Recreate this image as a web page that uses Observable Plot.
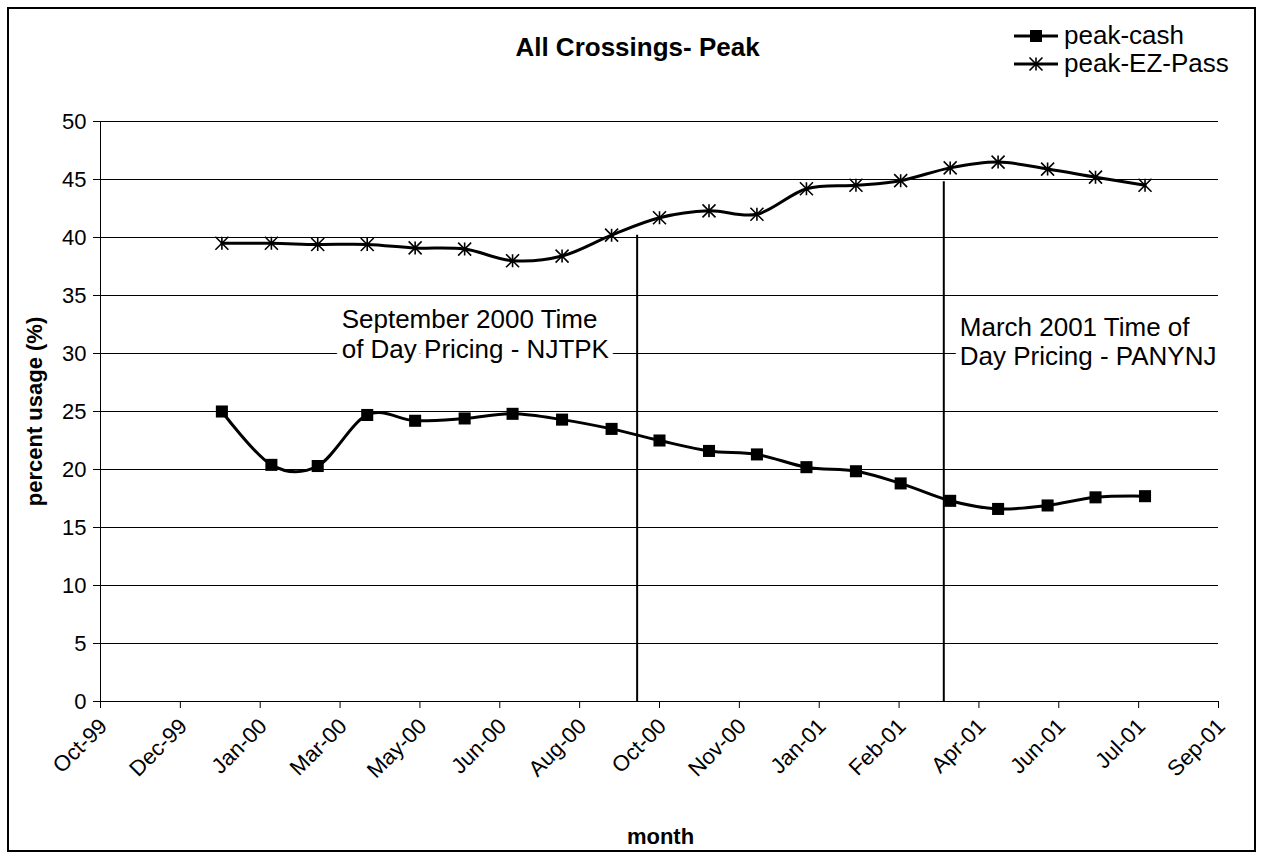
<!DOCTYPE html>
<html><head><meta charset="utf-8">
<script src="https://cdn.jsdelivr.net/npm/d3@7"></script>
<script src="https://cdn.jsdelivr.net/npm/@observablehq/plot@0.6"></script>
<style>
body{margin:0;background:#fff;font-family:Arial,"Liberation Sans",sans-serif;}
#wrap{position:relative;width:1263px;height:859px;overflow:hidden;}
#chart svg{display:block;}
#border{position:absolute;left:7px;top:7px;width:1245px;height:841px;border:2px solid #000;pointer-events:none;}
#legend{position:absolute;left:0;top:0;}
</style></head><body>
<div id="wrap"><div id="chart"></div><div id="border"></div></div>
<script>
// ---- data ----
const months = ["2000-01-01","2000-02-01","2000-03-01","2000-04-01","2000-05-01","2000-06-01","2000-07-01","2000-08-01","2000-09-01","2000-10-01","2000-11-01","2000-12-01","2001-01-01","2001-02-01","2001-03-01","2001-04-01","2001-05-01","2001-06-01","2001-07-01","2001-08-01"];
const peakCash = [25.0,20.4,20.3,24.7,24.2,24.4,24.8,24.3,23.5,22.5,21.6,21.3,20.2,19.85,18.8,17.3,16.6,16.9,17.6,17.7];
const peakEZPass = [39.5,39.5,39.4,39.4,39.1,39.0,38.0,38.4,40.2,41.7,42.3,42.0,44.2,44.5,44.9,46.0,46.5,45.9,45.2,44.5];
const seriesNames = ["peak-cash","peak-EZ-Pass"];
const xDomain = ["1999-10-17","2001-09-16"];
const xTickDates = ["1999-10-17","1999-12-06","2000-01-25","2000-03-15","2000-05-04","2000-06-23","2000-08-12","2000-10-01","2000-11-20","2001-01-09","2001-02-28","2001-04-19","2001-06-08","2001-07-28","2001-09-16"];
const xTickLabels = ["Oct-99","Dec-99","Jan-00","Mar-00","May-00","Jun-00","Aug-00","Oct-00","Nov-00","Jan-01","Feb-01","Apr-01","Jun-01","Jul-01","Sep-01"];
const yTicks = [0,5,10,15,20,25,30,35,40,45,50];
const eventDates = ["2000-09-17","2001-03-28"];
const eventTops = [40.2,44.8];
const noteDates = ["2000-03-16","2001-04-07"];
const noteValues = [31.7,31.06];
const noteTexts = ["September 2000 Time\nof Day Pricing - NJTPK","March 2001 Time of\nDay Pricing - PANYNJ"];
const titleText = "All Crossings- Peak";
const xTitle = "month";
const yTitle = "percent usage (%)";

// ---- build ----
const D = s => new Date(s + "T00:00:00Z");
const rows = months.map((m,i) => ({date: D(m), cash: peakCash[i], ez: peakEZPass[i]}));
const ticks = xTickDates.map((d,i) => ({date: D(d), label: xTickLabels[i]}));
const events = eventDates.map((d,i) => ({date: D(d), top: eventTops[i]}));
const notes = noteDates.map((d,i) => ({date: D(d), value: noteValues[i], text: noteTexts[i]}));
const FONT = "Arial, 'Liberation Sans', sans-serif";

const asterisk = {
  draw(ctx, size) {
    const r = Math.sqrt(size / Math.PI);
    ctx.moveTo(0, -r); ctx.lineTo(0, r);
    ctx.moveTo(-r, -r); ctx.lineTo(r, r);
    ctx.moveTo(-r, r); ctx.lineTo(r, -r);
  }
};

const chart = Plot.plot({
  width: 1263, height: 859,
  marginLeft: 100, marginRight: 45, marginTop: 121, marginBottom: 158,
  style: {fontFamily: FONT, fontSize: "22px", color: "#000", background: "transparent", overflow: "visible"},
  x: {type: "utc", domain: [D(xDomain[0]), D(xDomain[1])]},
  y: {domain: [0, 50]},
  marks: [
    Plot.ruleY(yTicks.filter(v => v > 0), {stroke: "#000", strokeWidth: 1}),
    Plot.frame({anchor: "left", stroke: "#000"}),
    Plot.frame({anchor: "bottom", stroke: "#000"}),
    Plot.axisY({ticks: yTicks, tickSize: 7, tickPadding: 7, label: null, fontSize: 22}),
    Plot.axisX({ticks: ticks.map(t => t.date), tickSize: 7, tickFormat: () => "", label: null}),
    Plot.text(ticks, {x: "date", frameAnchor: "bottom", text: "label", rotate: -45, textAnchor: "end", lineAnchor: "middle", dy: 21, dx: 3, fontSize: 22}),
    Plot.text(notes, {x: "date", y: "value", text: "text", textAnchor: "start", lineAnchor: "middle", lineHeight: 1.13, fontSize: 26, fill: "#000", stroke: "#fff", strokeWidth: 12, strokeLinejoin: "round", paintOrder: "stroke"}),
    Plot.ruleX(events, {x: "date", y1: 0, y2: "top", stroke: "#000", strokeWidth: 2}),
    Plot.line(rows, {x: "date", y: "cash", curve: "cardinal", tension: 0, stroke: "#000", strokeWidth: 3}),
    Plot.line(rows, {x: "date", y: "ez", curve: "cardinal", tension: 0, stroke: "#000", strokeWidth: 3}),
    Plot.dot(rows, {x: "date", y: "cash", symbol: "square", r: 6.8, fill: "#000"}),
    Plot.dot(rows, {x: "date", y: "ez", symbol: asterisk, r: 6.5, fill: "none", stroke: "#000", strokeWidth: 1.6}),
    Plot.text([titleText], {frameAnchor: "top", dx: -22, dy: -66, lineAnchor: "bottom", fontWeight: "bold", fontSize: 26}),
    Plot.text([xTitle], {frameAnchor: "bottom", dx: 1, dy: 142, lineAnchor: "bottom", fontWeight: "bold", fontSize: 22}),
    Plot.text([yTitle], {frameAnchor: "left", dx: -66, rotate: -90, textAnchor: "middle", lineAnchor: "middle", fontWeight: "bold", fontSize: 22})
  ]
});
document.getElementById("chart").appendChild(chart);

// ---- legend ----
const leg = d3.select("#wrap").append("svg").attr("id", "legend").attr("width", 1263).attr("height", 100)
  .style("font-family", FONT).style("font-size", "26px");
const legRows = [{name: seriesNames[0], y: 36, sym: "square"}, {name: seriesNames[1], y: 64, sym: "star"}];
legRows.forEach(r => {
  leg.append("line").attr("x1", 1014).attr("x2", 1058).attr("y1", r.y).attr("y2", r.y).attr("stroke", "#000").attr("stroke-width", 3);
  if (r.sym === "square") {
    leg.append("rect").attr("x", 1036 - 6).attr("y", r.y - 6).attr("width", 12).attr("height", 12).attr("fill", "#000");
  } else {
    const s = 6.5;
    leg.append("path").attr("d", `M1036,${r.y - s}L1036,${r.y + s}M${1036 - s},${r.y - s}L${1036 + s},${r.y + s}M${1036 - s},${r.y + s}L${1036 + s},${r.y - s}`)
      .attr("stroke", "#000").attr("stroke-width", 1.6).attr("fill", "none");
  }
  leg.append("text").attr("x", 1064).attr("y", r.y + 8).text(r.name);
});
</script>
</body></html>
